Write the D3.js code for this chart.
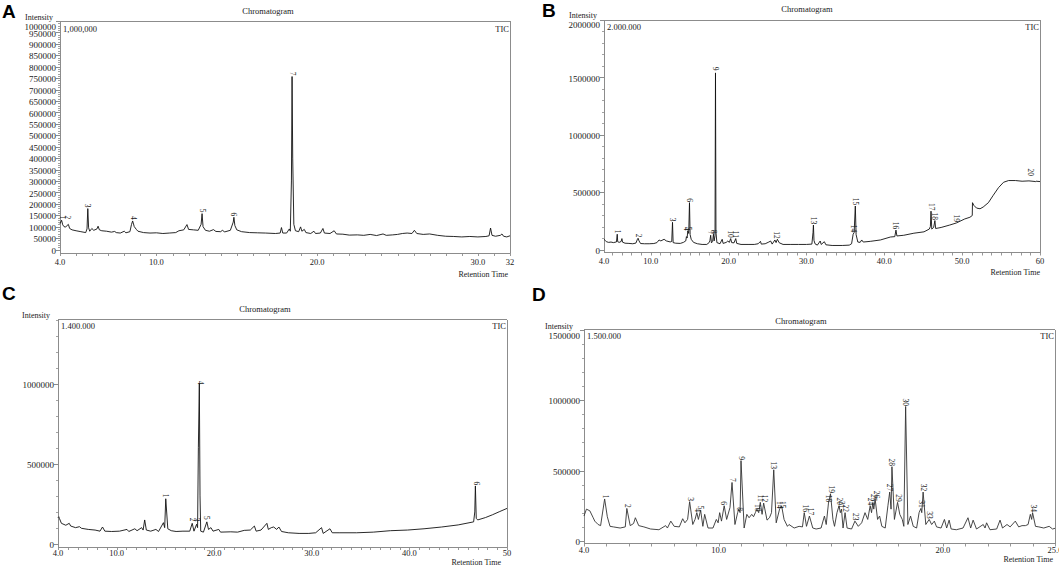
<!DOCTYPE html>
<html><head><meta charset="utf-8">
<script src="https://cdn.jsdelivr.net/npm/d3@7/dist/d3.min.js"></script>
<style>
body{margin:0;background:#fff}
svg{display:block}
text{font-family:"Liberation Serif","Times New Roman",serif;fill:#1a1a1a}
</style></head>
<body><svg id="c" width="1059" height="565"></svg>
<script>
// ---------- DATA (time in min, intensity in thousands) ----------
const traceA = [[4.0,113],[4.05,120],[4.1,128],[4.17,108],[4.25,100],[4.35,98],[4.45,106],[4.52,110],[4.6,92],[4.75,86],[5.0,82],[5.3,78],[5.6,74],[5.68,90],[5.73,179],[5.78,95],[5.85,80],[5.98,92],[6.1,84],[6.3,90],[6.37,102],[6.45,86],[6.6,82],[6.9,80],[7.2,76],[7.4,79],[7.5,74],[7.75,72],[8.0,80],[8.1,73],[8.35,78],[8.45,110],[8.52,125],[8.62,100],[8.75,88],[8.85,80],[9.2,74],[9.6,72],[10.0,73],[10.4,70],[10.8,72],[11.2,74],[11.4,82],[11.7,86],[11.9,109],[12.0,88],[12.3,86],[12.6,84],[12.78,110],[12.84,157],[12.9,100],[13.05,84],[13.3,80],[13.55,87],[13.7,79],[14.0,78],[14.1,84],[14.25,77],[14.6,84],[14.78,120],[14.82,141],[14.88,105],[15.0,86],[15.3,78],[15.8,74],[16.3,73],[16.8,72],[17.4,70],[17.7,72],[17.78,96],[17.86,72],[18.1,72],[18.27,90],[18.33,80],[18.4,300],[18.44,757],[18.48,400],[18.55,110],[18.65,82],[18.85,78],[18.97,99],[19.05,80],[19.2,88],[19.3,74],[19.6,70],[19.8,80],[19.9,70],[20.2,72],[20.36,92],[20.45,72],[20.8,70],[21.06,82],[21.2,68],[21.6,67],[22.0,63],[22.5,64],[22.9,62],[23.3,66],[23.7,61],[24.1,68],[24.3,62],[24.7,64],[25.0,66],[25.3,70],[25.6,72],[25.9,70],[26.05,84],[26.2,70],[26.6,66],[27.0,68],[27.5,62],[28.0,58],[28.5,57],[29.0,55],[29.5,57],[30.0,55],[30.5,57],[30.7,60],[30.79,94],[30.88,62],[31.1,58],[31.4,62],[31.5,68],[31.6,58],[31.8,55],[32.0,60]];
const peaksA = [["1",4.15,132],["2",4.45,132],["3",5.73,184],["4",8.58,130],["5",12.84,162],["6",14.82,146],["7",18.44,762]];
const xTicksA = [4,10,20,30,32];
const xLabelsA = ["4.0","10.0","20.0","30.0","32"];
const yTicksA = [0,50,100,150,200,250,300,350,400,450,500,550,600,650,700,750,800,850,900,950,1000];

const traceB = [[4.0,89],[4.15,80],[4.3,68],[4.6,62],[4.9,65],[5.2,60],[5.6,66],[5.7,133],[5.76,68],[5.95,62],[6.2,70],[6.3,95],[6.38,64],[6.7,55],[7.2,53],[7.7,50],[8.1,56],[8.3,90],[8.38,98],[8.5,75],[8.7,52],[9.2,50],[9.8,50],[10.4,52],[10.8,60],[11.07,83],[11.3,75],[11.72,89],[12.0,75],[12.5,66],[12.7,70],[12.8,237],[12.88,60],[13.2,55],[13.8,53],[14.2,62],[14.5,75],[14.59,112],[14.68,100],[14.76,163],[14.88,140],[14.98,408],[15.06,130],[15.2,89],[15.5,62],[16.0,50],[16.6,44],[17.2,44],[17.5,60],[17.6,75],[17.7,124],[17.8,58],[17.95,70],[18.06,133],[18.15,75],[18.26,120],[18.32,1539],[18.38,150],[18.5,60],[18.9,50],[19.18,89],[19.3,53],[19.7,62],[19.9,74],[20.1,62],[20.27,95],[20.4,60],[20.7,58],[20.92,95],[21.05,53],[21.6,44],[22.5,44],[23.3,44],[23.8,50],[24.1,71],[24.2,47],[24.7,50],[25.17,65],[25.4,74],[25.6,47],[25.95,83],[26.1,60],[26.27,89],[26.5,59],[27.0,44],[28.0,44],[29.0,44],[30.0,44],[30.7,47],[30.85,150],[30.9,213],[30.97,80],[31.1,50],[31.4,38],[31.77,74],[31.9,44],[32.3,68],[32.5,41],[33.3,35],[34.6,35],[35.5,38],[35.8,50],[36.0,133],[36.13,148],[36.28,379],[36.38,130],[36.6,65],[36.9,62],[37.1,83],[37.3,65],[38.2,71],[39.5,83],[40.8,109],[41.35,112],[41.5,169],[41.62,118],[42.5,124],[43.8,142],[45.1,154],[45.78,178],[45.92,200],[46.0,334],[46.1,178],[46.34,192],[46.5,252],[46.6,183],[47.3,192],[48.4,213],[49.25,231],[50.33,266],[51.0,281],[51.3,296],[51.33,408],[51.5,385],[51.85,361],[52.3,355],[52.7,370],[53.37,408],[54.0,473],[54.67,539],[55.32,586],[55.97,601],[56.84,601],[57.7,595],[58.58,598],[59.45,592],[59.5,595],[60.0,592]];
const peaksB = [["1",5.72,140],["2",8.45,104],["3",12.8,244],["4",14.62,165],["5",14.8,165],["6",15.0,415],["7",17.7,130],["8",18.06,140],["9",18.32,1560],["10",20.27,102],["11",20.92,100],["12",26.1,94],["13",30.9,220],["14",36.1,150],["15",36.28,386],["16",41.5,176],["17",46.0,340],["18",46.5,258],["19",49.25,240],["20",58.8,640]];
const xTicksB = [4,10,20,30,40,50,60];
const xLabelsB = ["4.0","10.0","20.0","30.0","40.0","50.0","60"];
const yTicksB = [0,500,1000,1500,2000];

const traceC = [[4.0,165],[4.08,170],[4.15,159],[4.35,129],[4.8,117],[5.15,129],[5.3,112],[5.8,102],[6.2,108],[6.4,98],[7.1,91],[7.8,87],[8.3,80],[8.56,106],[8.8,80],[9.5,78],[10.3,80],[11.07,91],[11.25,78],[11.87,95],[12.1,83],[12.57,102],[12.72,87],[12.88,150],[13.05,87],[13.5,80],[14.03,91],[14.3,78],[14.8,133],[14.93,102],[15.04,282],[15.25,95],[15.6,83],[16.1,78],[16.8,80],[17.5,80],[17.75,129],[17.93,80],[18.2,123],[18.3,102],[18.38,600],[18.48,1000],[18.55,300],[18.62,80],[18.9,74],[19.25,138],[19.42,91],[19.67,102],[19.88,80],[20.47,91],[20.65,74],[21.7,76],[22.4,74],[23.08,85],[23.7,87],[24.12,112],[24.3,80],[24.8,87],[25.4,129],[25.55,91],[25.85,102],[26.1,106],[26.4,91],[26.63,106],[26.9,78],[27.6,70],[28.7,66],[29.7,66],[30.4,70],[31.0,102],[31.17,66],[31.86,95],[32.1,70],[32.8,70],[34.6,70],[36.3,74],[38.05,83],[39.8,87],[41.5,95],[43.3,106],[45.0,119],[46.58,138],[46.7,200],[46.76,362],[46.85,160],[47.0,150],[47.8,165],[48.5,182],[49.2,201],[50.0,222]];
const peaksC = [["1",15.04,290],["2",17.75,140],["3",18.2,140],["4",18.62,995],["5",19.25,152],["6",46.85,366]];
const xTicksC = [4,10,20,30,40,50];
const xLabelsC = ["4.0","10.0","20.0","30.0","40.0","50"];
const yTicksC = [0,500,1000];

const traceD = [[4.0,177],[4.11,226],[4.26,214],[4.41,165],[4.48,141],[4.63,117],[4.74,109],[4.92,298],[5.04,172],[5.16,104],[5.31,100],[5.61,92],[5.84,100],[5.91,231],[6.06,109],[6.21,124],[6.29,165],[6.44,109],[6.67,100],[6.97,85],[7.34,80],[7.64,109],[7.72,92],[7.87,141],[8.02,104],[8.25,100],[8.4,158],[8.5,129],[8.62,153],[8.71,279],[8.85,117],[8.95,153],[9.03,201],[9.1,153],[9.2,218],[9.3,104],[9.38,189],[9.53,92],[9.75,92],[9.9,153],[9.98,129],[10.05,201],[10.13,141],[10.25,250],[10.36,153],[10.51,238],[10.6,415],[10.73,117],[10.85,201],[10.9,226],[10.96,201],[11.0,570],[11.14,92],[11.26,189],[11.36,165],[11.48,189],[11.56,172],[11.64,201],[11.71,226],[11.79,201],[11.86,274],[11.94,189],[12.01,269],[12.16,148],[12.27,165],[12.36,201],[12.46,505],[12.57,129],[12.72,226],[12.81,250],[12.92,153],[13.07,104],[13.14,117],[13.37,92],[13.59,104],[13.74,100],[13.82,201],[13.92,104],[14.05,177],[14.2,92],[14.35,85],[14.57,92],[14.72,177],[14.8,117],[14.9,269],[14.99,335],[15.1,153],[15.17,104],[15.28,201],[15.37,250],[15.43,201],[15.48,226],[15.55,92],[15.64,201],[15.73,92],[15.93,85],[16.08,141],[16.23,104],[16.38,129],[16.53,201],[16.65,153],[16.76,250],[16.82,201],[16.88,274],[16.92,226],[16.98,298],[17.09,153],[17.18,177],[17.28,104],[17.43,92],[17.55,250],[17.63,347],[17.69,226],[17.73,527],[17.84,153],[17.98,274],[18.08,189],[18.19,153],[18.26,104],[18.34,954],[18.44,117],[18.56,177],[18.68,104],[18.83,92],[18.94,201],[19.02,231],[19.06,201],[19.12,347],[19.24,117],[19.39,153],[19.5,117],[19.62,141],[19.72,100],[19.92,92],[20.07,153],[20.17,92],[20.28,148],[20.37,85],[20.6,80],[20.9,92],[21.12,165],[21.24,92],[21.35,148],[21.5,85],[21.8,117],[21.88,92],[21.95,129],[22.1,80],[22.4,85],[22.55,148],[22.66,92],[22.86,117],[23.0,100],[23.23,141],[23.38,100],[23.53,109],[23.68,109],[23.8,117],[23.9,189],[23.96,153],[24.0,201],[24.13,104],[24.28,100],[24.5,92],[24.74,104],[24.89,85],[25.0,90]];
const peaksD = [["1",4.95,302],["2",5.93,236],["3",8.74,284],["4",9.04,206],["5",9.2,223],["6",10.22,255],["7",10.6,420],["8",10.92,212],["9",11.0,575],["10",11.73,210],["11",11.86,278],["12",12.06,274],["13",12.46,510],["14",12.72,230],["15",12.84,230],["16",13.86,206],["17",14.1,182],["18",14.92,274],["19",15.04,340],["20",15.37,256],["21",15.5,230],["22",15.65,206],["23",16.1,146],["24",16.79,254],["25",16.91,280],["26",17.03,303],["27",17.63,352],["28",17.73,532],["29",18.02,278],["30",18.34,958],["31",19.05,236],["32",19.13,352],["33",19.42,157],["34",24.04,206]];
const xTicksD = [4,10,20,25];
const xLabelsD = ["4.0","10.0","20.0","25.0"];
const yTicksD = [0,500,1000,1500];

// ---------- DRAW ----------
const svg = d3.select("#c");
const FRAME = "#8c8c8c";

function panel(c){
  const g = svg.append("g");
  const x = d3.scaleLinear().domain(c.xDom).range([c.left, c.right]);
  const y = d3.scaleLinear().domain([0, c.yMax]).range([c.y0, c.top]);

  g.append("text").attr("x", c.letter[1]).attr("y", c.letter[2]).text(c.letter[0])
    .style("font-family","'Liberation Sans',Arial,sans-serif").style("font-weight","bold")
    .style("font-size","19px").style("fill","#000");
  g.append("text").attr("x", c.titleX).attr("y", c.titleY).attr("text-anchor","middle")
    .style("font-size","8.5px").text("Chromatogram");
  g.append("text").attr("x", c.intX).attr("y", c.intY).style("font-size","8px").text("Intensity");

  const fr = [[c.left,c.top,c.right,c.top],[c.right,c.top,c.right,c.axisY],
              [c.left,c.top,c.left,c.axisY],[c.left,c.axisY,c.right,c.axisY]];
  g.selectAll(null).data(fr).join("line")
    .attr("x1",d=>d[0]).attr("y1",d=>d[1]).attr("x2",d=>d[2]).attr("y2",d=>d[3])
    .attr("stroke",FRAME).attr("stroke-width",1).attr("shape-rendering","crispEdges");

  g.selectAll(null).data(d3.range(0, c.yMax + 0.001, c.yMinor)).join("line")
    .attr("x1",c.left-2).attr("x2",c.left).attr("y1",d=>Math.round(y(d))+0.5).attr("y2",d=>Math.round(y(d))+0.5)
    .attr("stroke",FRAME).attr("stroke-width",0.8);
  g.selectAll(null).data(c.yTicks).join("line")
    .attr("x1",c.left-4).attr("x2",c.left).attr("y1",d=>Math.round(y(d))+0.5).attr("y2",d=>Math.round(y(d))+0.5)
    .attr("stroke",FRAME).attr("stroke-width",1);
  g.selectAll(null).data(c.yTicks).join("text")
    .attr("x",c.left-4).attr("y",d=>y(d) + (d===c.yMax?c.topShift:1)).attr("dy","0.35em").attr("text-anchor","end")
    .style("font-size","9px").text(d=>String(d*1000));

  const xt = d3.range(c.xMinorStart, c.xDom[1] + 0.001, c.xMinor);
  g.selectAll(null).data(xt).join("line")
    .attr("x1",d=>Math.round(x(d))+0.5).attr("x2",d=>Math.round(x(d))+0.5)
    .attr("y1",c.axisY).attr("y2",c.axisY+3).attr("stroke",FRAME).attr("stroke-width",0.9);
  g.selectAll(null).data(c.xTicks).join("text")
    .attr("x",d=>x(d)).attr("y",c.xlY).attr("text-anchor","middle")
    .style("font-size","8.5px").text((d,i)=>c.xLabels[i]);
  g.append("text").attr("x",c.rtX).attr("y",c.rtY).attr("text-anchor","end")
    .style("font-size","8px").text("Retention Time");

  g.append("text").attr("x",c.left+3).attr("y",c.fsY).style("font-size","8.5px").text(c.fs);
  g.append("text").attr("x",c.right-1).attr("y",c.fsY).attr("text-anchor","end").style("font-size","8.5px").text("TIC");

  const line = d3.line().x(d=>x(d[0])).y(d=>y(d[1]));
  g.append("path").datum(c.trace).attr("d",line).attr("fill","none")
    .attr("stroke",c.stroke).attr("stroke-width",c.sw).attr("stroke-linejoin","round");

  g.selectAll(null).data(c.peaks).join("text")
    .attr("transform",d=>`translate(${x(d[1])},${y(d[2])}) rotate(90)`)
    .attr("text-anchor","end").attr("dominant-baseline","central")
    .style("font-size","7.5px").text(d=>d[0]);
}

panel({letter:["A",2,17.5], titleX:268, titleY:14, intX:25, intY:20, topShift:6,
  left:60, right:510, top:21, y0:249.5, axisY:253, xDom:[4,32], yMax:1000, yMinor:10,
  yTicks:yTicksA, xTicks:xTicksA, xLabels:xLabelsA, xMinor:1, xMinorStart:4,
  xlY:265, rtX:508, rtY:277, fs:"1,000,000", fsY:32, trace:traceA, peaks:peaksA, stroke:"#111", sw:0.9});

panel({letter:["B",542,17], titleX:807, titleY:11.5, intX:569, intY:17.5, topShift:5,
  left:604, right:1040, top:20, y0:249.5, axisY:252.5, xDom:[4,60], yMax:2000, yMinor:100,
  yTicks:yTicksB, xTicks:xTicksB, xLabels:xLabelsB, xMinor:1.25, xMinorStart:5,
  xlY:264, rtX:1040, rtY:274.5, fs:"2.000.000", fsY:30, trace:traceB, peaks:peaksB, stroke:"#111", sw:0.9});

panel({letter:["C",2,300], titleX:265, titleY:312, intX:22, intY:318, topShift:5,
  left:58, right:507, top:319.5, y0:544, axisY:547, xDom:[4,50], yMax:1400, yMinor:100,
  yTicks:yTicksC, xTicks:xTicksC, xLabels:xLabelsC, xMinor:1, xMinorStart:4,
  xlY:556, rtX:501, rtY:564.5, fs:"1.400.000", fsY:329, trace:traceC, peaks:peaksC, stroke:"#111", sw:0.9});

panel({letter:["D",532,301], titleX:801, titleY:324, intX:545, intY:329, topShift:6,
  left:584, right:1055, top:329.5, y0:541, axisY:543.5, xDom:[4,25], yMax:1500, yMinor:100,
  yTicks:yTicksD, xTicks:xTicksD, xLabels:xLabelsD, xMinor:1, xMinorStart:4,
  xlY:553, rtX:1053, rtY:562, fs:"1.500.000", fsY:339, trace:traceD, peaks:peaksD, stroke:"#333", sw:0.9});
</script></body></html>
